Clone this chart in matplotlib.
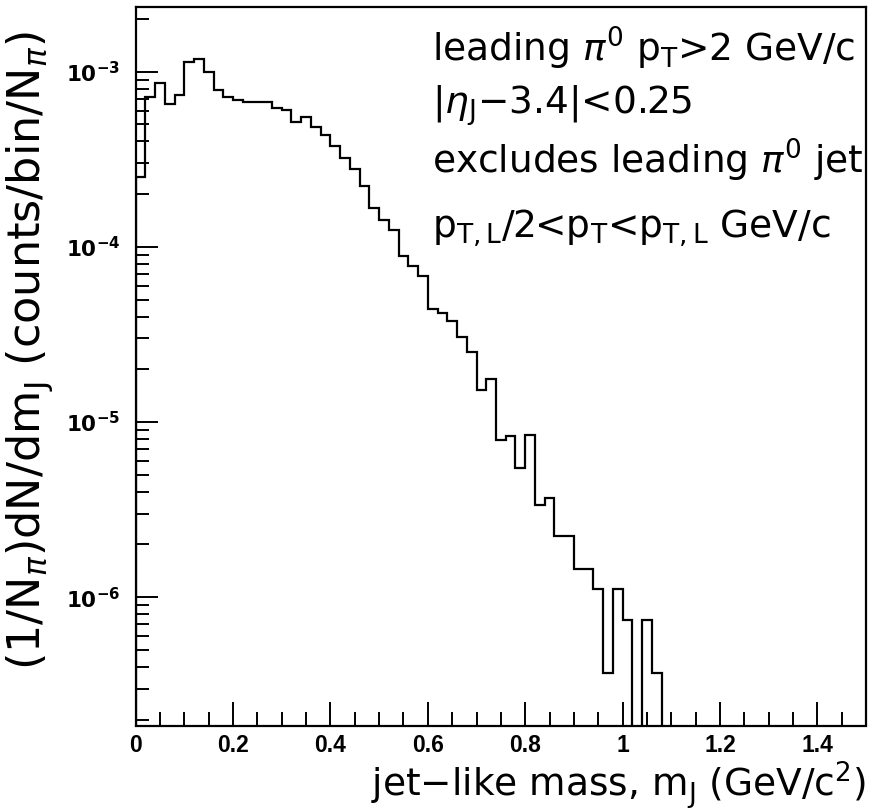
import numpy as np
import matplotlib
matplotlib.use("Agg")
import matplotlib.pyplot as plt
from matplotlib.ticker import FixedLocator, LogLocator, NullFormatter, FuncFormatter

# Jet-like mass spectrum, 0.02 GeV/c^2 bins starting at 0
bin_width = 0.02
counts_per_bin = [
    2.51e-4, 7.17e-4, 8.59e-4, 6.51e-4, 7.39e-4, 1.13e-3, 1.18e-3, 9.96e-4,
    7.81e-4, 7.20e-4, 6.86e-4, 6.69e-4, 6.69e-4, 6.69e-4, 6.23e-4, 6.04e-4,
    5.16e-4, 5.49e-4, 4.85e-4, 4.35e-4, 3.78e-4, 3.20e-4, 2.77e-4, 2.23e-4,
    1.66e-4, 1.42e-4, 1.25e-4, 8.85e-5, 7.76e-5, 6.80e-5, 4.39e-5, 4.21e-5,
    3.75e-5, 3.06e-5, 2.51e-5, 1.53e-5, 1.77e-5, 7.86e-6, 8.32e-6, 5.49e-6,
    8.40e-6, 3.34e-6, 3.68e-6, 2.23e-6, 2.23e-6, 1.45e-6, 1.45e-6, 1.11e-6,
    3.70e-7, 1.11e-6, 7.43e-7, 0.0, 7.43e-7, 3.70e-7,
]
x_ticks = [0, 0.2, 0.4, 0.6, 0.8, 1.0, 1.2, 1.4]
y_ticks = [1e-6, 1e-5, 1e-4, 1e-3]

annotation_lines = [
    r"leading $\pi^{0}$ p$_{\mathrm{T}}$>2 GeV/c",
    r"|$\eta_{\mathrm{J}}$$-$3.4|<0.25",
    r"excludes leading $\pi^{0}$ jet",
    r"p$_{\mathrm{T,L}}$/2<p$_{\mathrm{T}}$<p$_{\mathrm{T,L}}$ GeV/c",
]

plt.rcParams["font.family"] = ["DejaVu Sans"]
plt.rcParams["mathtext.fontset"] = "dejavusans"

W, H = 872, 809
fig = plt.figure(figsize=(W / 100, H / 100), dpi=100)
fig.patch.set_facecolor("white")

left, right, bottom, top = 135.7, 866, 725.5, 6.7
ax = fig.add_axes([left / W, 1 - bottom / H, (right - left) / W, (bottom - top) / H])

values = np.array(counts_per_bin)
edges = np.arange(len(values) + 1) * bin_width
ax.stairs(values, edges, baseline=0, color="black", linewidth=1.6)

ax.set_yscale("log")
ax.set_xlim(0, 1.5)
ax.set_ylim(1.85e-7, 2.35e-3)

ax.xaxis.set_major_locator(FixedLocator(x_ticks))
ax.xaxis.set_minor_locator(FixedLocator(np.arange(0, 1.5001, 0.05)))
ax.xaxis.set_major_formatter(FuncFormatter(lambda v, p: f"{v:g}"))
ax.yaxis.set_major_locator(FixedLocator(y_ticks))
ax.yaxis.set_minor_locator(LogLocator(base=10, subs=np.arange(2, 10), numticks=20))
ax.yaxis.set_minor_formatter(NullFormatter())
ax.yaxis.set_major_formatter(
    FuncFormatter(lambda v, p: r"$\mathbf{10^{%d}}$" % int(round(np.log10(v))))
)

ax.tick_params(axis="both", which="both", direction="in", top=False, right=False,
               width=1.4, color="black")
ax.tick_params(axis="x", which="major", length=17, pad=6)
ax.tick_params(axis="x", which="minor", length=10)
ax.tick_params(axis="y", which="major", length=16, pad=11)
ax.tick_params(axis="y", which="minor", length=9.7)
for lab in ax.get_xticklabels():
    lab.set_fontfamily("Liberation Sans")
    lab.set_fontweight("bold")
    lab.set_fontsize(16.5)
for lab in ax.get_yticklabels():
    lab.set_fontsize(15.5)
for s in ax.spines.values():
    s.set_linewidth(1.6)

# axis titles
fig.text(866 / W, 1 - 796 / H, r"jet$-$like mass, m$_{\mathrm{J}}$ (GeV/c$^{2}$)",
         ha="right", va="baseline", fontsize=27)
fig.text(30 / W, 1 - 351 / H,
         r"(1/N$_{\pi}$)dN/dm$_{\mathrm{J}}$ (counts/bin/N$_{\pi}$)",
         ha="center", va="center", rotation=90, fontsize=32)

# selection notes
baselines = [62, 114, 174, 238]
for txt, yb in zip(annotation_lines, baselines):
    fig.text(432 / W, 1 - yb / H, txt, ha="left", va="baseline", fontsize=27)

fig.savefig("out.png", dpi=100)
